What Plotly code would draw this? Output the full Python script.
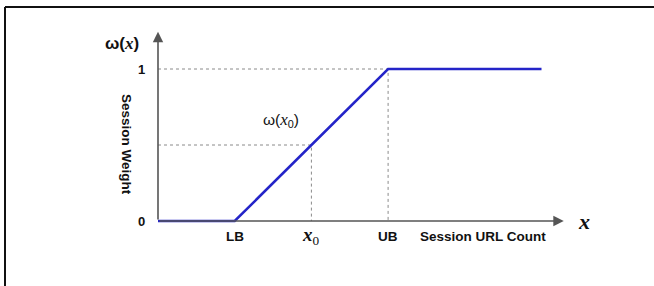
import plotly.graph_objects as go

# ---- data ----
curve_x = [0, 1, 3, 5]          # 0, LB, UB, end
curve_y = [0, 0, 1, 1]          # session weight
lb, x0, ub = 1, 2, 3
w_x0 = 0.5
x_tick_vals = [1, 2, 3]
x_tick_labels = ["LB", "<i>x</i><sub>0</sub>", "UB"]
y_tick_vals = [0, 1]
y_tick_labels = ["0", "1"]

# pixel-to-data mapping (origin at 158px / 221px; 76.7 px per x unit, 152 px per y unit)
W, H = 654, 286
ox, oy, ux, uy = 158, 221, 76.7, 152
xr = [-ox / ux, (W - ox) / ux]
yr = [-(H - oy) / uy, oy / uy]

SANS = "Liberation Sans, Arial, sans-serif"
SERIF = "Liberation Serif, Times New Roman, serif"
DOT = "#8a8a8a"

fig = go.Figure()

# dotted guide lines
fig.add_trace(go.Scatter(x=[0, ub, ub], y=[1, 1, 0], mode="lines",
                         line=dict(color=DOT, width=1, dash="dot"), hoverinfo="skip"))
fig.add_trace(go.Scatter(x=[0, x0, x0], y=[w_x0, w_x0, 0], mode="lines",
                         line=dict(color=DOT, width=1, dash="dot"), hoverinfo="skip"))

# weight curve
fig.add_trace(go.Scatter(x=curve_x, y=curve_y, mode="lines",
                         line=dict(color="#2424c8", width=2.5), hoverinfo="skip"))

ann = []
# axes arrows
ann.append(dict(x=5.29, y=0, ax=0, ay=0, xref="x", yref="y", axref="x", ayref="y",
                text="", showarrow=True, arrowhead=2, arrowsize=1.3, arrowwidth=1.6, arrowcolor="#555"))
ann.append(dict(x=0, y=1.245, ax=0, ay=0, xref="x", yref="y", axref="x", ayref="y",
                text="", showarrow=True, arrowhead=2, arrowsize=1.3, arrowwidth=1.6, arrowcolor="#555"))

# y tick labels
for v, t in zip(y_tick_vals, y_tick_labels):
    ann.append(dict(x=-0.14, y=v, xref="x", yref="y", text="<b>%s</b>" % t, showarrow=False,
                    xanchor="right", font=dict(family=SANS, size=13, color="#111")))
# x tick labels
for v, t in zip(x_tick_vals, x_tick_labels):
    if "sub" in t:
        ann.append(dict(x=v, y=-0.1, xref="x", yref="y",
                        text="<b><i>x</i></b><sub>0</sub>", showarrow=False,
                        font=dict(family=SERIF, size=19, color="#111")))
    else:
        ann.append(dict(x=v, y=-0.1, xref="x", yref="y", text="<b>%s</b>" % t, showarrow=False,
                        font=dict(family=SANS, size=13.5, color="#111")))

ann.append(dict(x=4.24, y=-0.1, xref="x", yref="y", text="<b>Session URL Count</b>", showarrow=False,
                font=dict(family=SANS, size=13.5, color="#111")))
ann.append(dict(x=5.55, y=0.0, xref="x", yref="y", text="<b><i>x</i></b>", showarrow=False,
                font=dict(family=SERIF, size=22, color="#111")))
ann.append(dict(x=-0.405, y=0.5, xref="x", yref="y", text="<b>Session Weight</b>", showarrow=False,
                textangle=90, font=dict(family=SANS, size=13.5, color="#111")))
ann.append(dict(x=-0.47, y=1.17, xref="x", yref="y",
                text="<b>ω(</b><b><i><span style='font-family:Liberation Serif'>x</span></i></b><b>)</b>",
                showarrow=False, font=dict(family=SANS, size=17, color="#111")))
ann.append(dict(x=1.6, y=0.665, xref="x", yref="y",
                text="ω(<i><span style='font-family:Liberation Serif;font-size:17px'>x</span></i><sub>0</sub>)",
                showarrow=False, font=dict(family=SANS, size=15.5, color="#111")))

shapes = [
    dict(type="line", xref="paper", yref="paper", x0=5 / W, y0=0, x1=5 / W, y1=1 - 7 / H,
         line=dict(color="#111", width=2)),
    dict(type="line", xref="paper", yref="paper", x0=5 / W, y0=1 - 7 / H, x1=1, y1=1 - 7 / H,
         line=dict(color="#111", width=2)),
]

fig.update_layout(
    width=W, height=H, margin=dict(l=0, r=0, t=0, b=0),
    paper_bgcolor="white", plot_bgcolor="white", showlegend=False,
    xaxis=dict(range=xr, visible=False, fixedrange=True),
    yaxis=dict(range=yr, visible=False, fixedrange=True),
    annotations=ann, shapes=shapes,
)

fig.write_html("out.html", config={"displayModeBar": False},
               post_script="document.body.style.margin='0';document.body.style.overflow='hidden';")
